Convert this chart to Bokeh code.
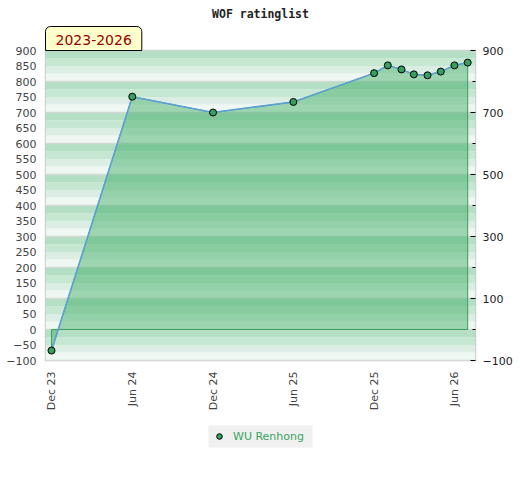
import math
import pandas as pd
from bokeh.plotting import figure
from bokeh.layouts import column
from bokeh.models import (Range1d, FixedTicker, LinearAxis, Legend, LegendItem, Title)
from bokeh.embed import file_html
from bokeh.resources import INLINE

# ---- data ----
dates = ["2023-12-01", "2024-06-01", "2024-12-01", "2025-06-01", "2025-12-01",
         "2026-01-01", "2026-02-01", "2026-03-01", "2026-04-01", "2026-05-01",
         "2026-06-01", "2026-07-01"]
ratings = [-68, 751, 700, 734, 827, 852, 839, 823, 820, 832, 852, 861]
tick_dates = ["2023-12-01", "2024-06-01", "2024-12-01", "2025-06-01", "2025-12-01", "2026-06-01"]
tick_labels = ["Dec 23", "Jun 24", "Dec 24", "Jun 25", "Dec 25", "Jun 26"]
left_ticks = list(range(-100, 901, 50))
right_ticks = [-100, 100, 300, 500, 700, 900]
right_minor = [0, 200, 400, 600, 800]
player = "WU Renhong"
chart_title = "WOF ratinglist"
period = "2023-2026"

x = pd.to_datetime(dates)
tick_ms = [int(pd.Timestamp(d).value // 10**6) for d in tick_dates]

x_start = x[0] - pd.Timedelta(days=13.6)
x_end = x[-1] + pd.Timedelta(days=17.7)

MARKER = dict(size=7, fill_color="#35a060", line_color="black", line_width=1)

p = figure(frame_width=430, frame_height=310, x_axis_type="datetime",
           x_range=Range1d(x_start, x_end), y_range=Range1d(-100, 900),
           output_backend="svg", toolbar_location=None,
           min_border_left=45, min_border_right=40,
           min_border_top=50, min_border_bottom=58)
p.background_fill_color = "white"
p.border_fill_color = "white"
p.outline_line_color = "#cccccc"
p.outline_line_width = 1.5
p.xgrid.visible = False
p.ygrid.visible = False

# background bands (gradient every 100 units)
band_colors = ["#eef7f1", "#dceee3", "#c6e7d2", "#b4dfc5"]  # bottom -> top within a band
for b in range(-100, 900, 100):
    for i, c in enumerate(band_colors):
        p.hstrip(y0=[b + 25 * i], y1=[b + 25 * (i + 1)], fill_color=c, line_color=None)
p.hspan(y=list(range(-100, 901, 100)), line_color="#d2d9d4", line_width=1.5)

# filled area between series and 0
xs_fill = [x[0]] + list(x) + [x[-1]]
ys_fill = [0] + ratings + [0]
p.patch(xs_fill, ys_fill, fill_color="#3caa64", fill_alpha=0.45,
        line_color="#3d9e5f", line_width=1)
p.line(x, ratings, line_color="#5a9fd8", line_width=1.5)
pts = p.scatter(x, ratings, **MARKER)

# axes
ax = p.xaxis[0]
ax.ticker = FixedTicker(ticks=tick_ms)
ax.major_label_overrides = dict(zip(tick_ms, tick_labels))
ax.major_label_orientation = math.pi / 2
ax.major_tick_in = 0
ax.major_tick_out = 0
ax.minor_tick_in = 0
ax.minor_tick_out = 0
ax.axis_line_color = None
ax.major_label_standoff = 11
ax.major_label_text_font = "DejaVu Sans"
ax.major_label_text_font_size = "11px"
ax.major_label_text_color = "#444444"

ay = p.yaxis[0]
ay.ticker = FixedTicker(ticks=left_ticks)
ay.major_tick_in = 0
ay.major_tick_out = 0
ay.minor_tick_in = 0
ay.minor_tick_out = 0
ay.axis_line_color = None
ay.major_label_standoff = 9
ay.major_label_text_font = "DejaVu Sans"
ay.major_label_text_font_size = "11px"
ay.major_label_text_color = "#444444"

ar = LinearAxis(ticker=FixedTicker(ticks=right_ticks, minor_ticks=right_minor))
ar.axis_line_color = None
ar.major_tick_in = 5
ar.major_tick_out = 0
ar.minor_tick_in = 3
ar.minor_tick_out = 0
ar.major_tick_line_color = "black"
ar.minor_tick_line_color = "black"
ar.major_label_standoff = 7
ar.major_label_text_font = "DejaVu Sans"
ar.major_label_text_font_size = "11px"
ar.major_label_text_color = "#222222"
p.add_layout(ar, "right")

# tab title (adjacent to frame)
tab = Title(text=period, align="left", offset=0, standoff=0,
            text_font="DejaVu Sans", text_font_size="14px", text_font_style="normal",
            text_color="#990000", background_fill_color="#ffffcc",
            border_line_color="black", border_line_width=1,
            padding=dict(left=10, right=10, top=8, bottom=6),
            border_radius=dict(top_left=5, top_right=5, bottom_right=0, bottom_left=0))
p.add_layout(tab, "above")

# main title (outermost)
p.title.text = chart_title
p.title.align = "center"
p.title.text_font = "DejaVu Sans Mono"
p.title.text_font_style = "bold"
p.title.text_font_size = "11.5px"
p.title.text_color = "#222222"
p.title.standoff = 8

# legend strip below the chart (same frame geometry as the chart, x in page pixels)
q = figure(frame_width=430, frame_height=50, x_range=Range1d(45, 475), y_range=Range1d(0, 50),
           output_backend="svg", toolbar_location=None,
           x_axis_location=None, y_axis_location=None,
           min_border_left=45, min_border_right=40, min_border_top=0, min_border_bottom=0)
q.outline_line_color = None
q.xgrid.visible = False
q.ygrid.visible = False
q.border_fill_color = "white"
q.background_fill_color = "white"
q.quad(left=[208], right=[312], bottom=[21], top=[43], fill_color="#f0f0f0", line_color=None)
dummy = q.scatter(x=[-100], y=[-100], **MARKER)

legend = Legend(items=[LegendItem(label=player, renderers=[dummy])],
                location=(167, 25), orientation="horizontal",
                background_fill_alpha=0, border_line_color=None,
                padding=0, spacing=0,
                glyph_width=14, glyph_height=14, label_height=14,
                label_standoff=7, label_text_font="DejaVu Sans",
                label_text_font_size="11px", label_text_color="#3aa35e",
                margin=0)
q.add_layout(legend, "center")

open("out.html", "w").write(file_html(column(p, q, spacing=0), INLINE))
